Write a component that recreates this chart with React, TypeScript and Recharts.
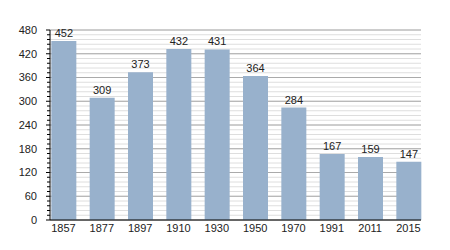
import React from "react";
import { BarChart, Bar, XAxis, YAxis, CartesianGrid, LabelList } from "recharts";

const years = ["1857", "1877", "1897", "1910", "1930", "1950", "1970", "1991", "2011", "2015"];
const population = [452, 309, 373, 432, 431, 364, 284, 167, 159, 147];
const majorTicks = [0, 60, 120, 180, 240, 300, 360, 420, 480];
const minorTicks = Array.from({ length: 41 }, (_, i) => i * 12);

const data = years.map((y, i) => ({ year: y, value: population[i] }));

const YTick = (props: any) => {
  const { x, y, payload } = props;
  const v = payload.value;
  const major = v % 60 === 0;
  return (
    <g>
      <line x1={x - (major ? 4 : 3)} x2={x} y1={y} y2={y} stroke="#000" strokeWidth={1} />
      {major && (
        <text x={x - 13} y={y} dy="0.35em" textAnchor="end" fontSize={11} fill="#222" fontFamily="Liberation Sans, Arial, sans-serif">
          {v}
        </text>
      )}
    </g>
  );
};

export default function App() {
  return (
    <div style={{ position: "absolute", left: 0, top: 0, background: "#fff" }}>
      <BarChart
        width={450}
        height={250}
        data={data}
        margin={{ top: 30, right: 29, bottom: 0, left: 0 }}
        barSize={25}
      >
        <CartesianGrid vertical={false} horizontalValues={minorTicks} stroke="#dedede" strokeWidth={1} />
        <CartesianGrid vertical={false} horizontalValues={majorTicks} stroke="#aaaaaa" strokeWidth={1} />
        <XAxis
          dataKey="year"
          height={30}
          tickLine={false}
          tickSize={0}
          tickMargin={4}
          padding={{ left: -5.67, right: -6.67 } as any}
          axisLine={{ stroke: "#000" }}
          tick={{ fontSize: 11, fill: "#222", fontFamily: "Liberation Sans, Arial, sans-serif" }}
          interval={0}
        />
        <YAxis
          width={50}
          domain={[0, 480]}
          ticks={minorTicks}
          interval={0}
          tickLine={false}
          tickSize={0}
          tickMargin={0}
          axisLine={{ stroke: "#000" }}
          tick={<YTick />}
        />
        <Bar dataKey="value" fill="#98b1cc" isAnimationActive={false}>
          <LabelList
            dataKey="value"
            position="top"
            offset={4}
            fontSize={11}
            fill="#222"
            fontFamily="Liberation Sans, Arial, sans-serif"
          />
        </Bar>
      </BarChart>
    </div>
  );
}
